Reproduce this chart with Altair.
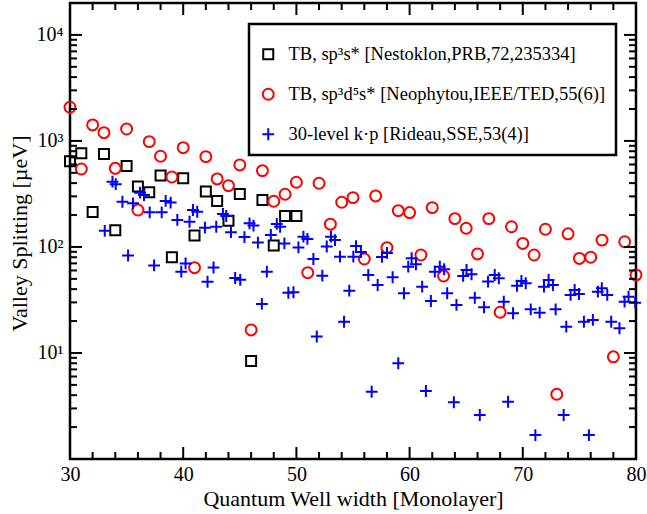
import altair as alt
import pandas as pd

# ---------------- data ----------------
series_names = [
    "TB, sp³s* [Nestoklon,PRB,72,235334]",
    "TB, sp³d⁵s* [Neophytou,IEEE/TED,55(6)]",
    "30-level k·p [Rideau,SSE,53(4)]",
]

sq_w = [30, 31, 32, 33, 34, 35, 36, 37, 38, 39, 40, 41, 42, 43, 44, 45, 46, 47, 48, 49, 50]
sq_v = [643, 766, 214, 754, 144, 581, 371, 328, 471, 80, 445, 128, 333, 272, 177, 316, 8.4, 277, 103, 196, 196]

ci_w = list(range(30, 81))
ci_v = [2080, 544, 1416, 1197, 552, 1297, 223, 985, 717, 457,
        864, 63.8, 711, 438, 379, 594, 16.5, 525, 270, 314,
        408, 57.2, 399, 164, 264, 292, 77, 303, 98.6, 220,
        211, 84, 235, 53.2, 185, 150, 86, 185, 24.2, 155,
        108, 84, 147, 4.08, 133, 78, 80, 116, 9.2, 112,
        54.5]

kp_w = [33.07, 33.75, 34.04, 34.63, 35.13, 35.57, 36.19, 36.54, 37.04, 37.43,
        38.10, 38.45, 38.89, 39.48, 39.83, 40.21, 40.56, 40.86, 41.24, 41.92,
        42.15, 42.68, 42.92, 43.51, 43.80, 44.22, 44.59, 45.04, 45.41, 45.86,
        46.21, 46.60, 46.95, 47.39, 47.74, 48.27, 48.56, 48.94, 49.29, 49.74,
        50.18, 50.62, 50.97, 51.50, 51.80, 52.29, 52.68, 53.06, 53.41, 53.85,
        54.21, 54.67, 55.03, 55.27, 55.70, 56.35, 56.65, 57.18, 57.56, 58.00,
        58.50, 59.00, 59.50, 59.88, 60.18, 60.56, 61.11, 61.44, 61.88, 62.23,
        62.67, 63.05, 63.32, 63.91, 64.14, 64.73, 65.03, 65.47, 65.76, 66.20,
        66.58, 66.93, 67.52, 67.88, 68.32, 68.70, 69.14, 69.49, 69.88, 70.26,
        70.70, 71.11, 71.49, 71.87, 72.28, 72.66, 72.90, 73.61, 73.84, 74.22,
        74.58, 74.96, 75.40, 75.84, 76.19, 76.63, 76.98, 77.46, 77.81, 78.54,
        78.99, 79.34, 79.93]
kp_v = [142, 413, 391, 267, 83, 258, 325, 309, 212, 67,
        212, 272, 262, 180, 58.5, 70, 173, 223, 215, 152,
        47, 64, 155, 205, 196, 138, 51, 49, 124, 167,
        159, 110, 29, 58.5, 130, 165, 155, 108, 37, 37.4,
        99, 125, 119, 77, 14.3, 53.6, 101, 125, 116, 81,
        19.7, 38.7, 81, 102, 89.7, 54.4, 4.31, 43.8, 80.5, 87.8,
        51.8, 8.0, 36.6, 65.2, 78.2, 68.7, 42.2, 4.38, 30.9, 58.5,
        65.2, 61.6, 36.6, 3.43, 28.4, 53.3, 60.7, 55.3, 33.2, 2.60,
        27, 47.1, 54.4, 50.7, 30.5, 3.47, 23.7, 43.1, 47.8, 45.5,
        25.8, 1.68, 24, 42.2, 48.8, 43.8, 25.8, 2.60, 17.7, 35.3,
        39.3, 36, 19.7, 1.68, 20.5, 37.9, 40.8, 35.3, 19.7, 17.1,
        30.5, 34, 29.8]

x_major = [30, 40, 50, 60, 70, 80]
x_minor = [v for v in range(32, 80, 2) if v % 10 != 0]
y_major = [10, 100, 1000, 10000]
y_minor = [m * d for d in (1, 10, 100, 1000) for m in range(2, 10)]

# ---------------- build ----------------
df = pd.concat([
    pd.DataFrame({"w": sq_w, "v": sq_v, "s": series_names[0]}),
    pd.DataFrame({"w": ci_w, "v": ci_v, "s": series_names[1]}),
    pd.DataFrame({"w": kp_w, "v": kp_v, "s": series_names[2]}),
])

W, H = 566, 456
FONT = "Liberation Serif"
xscale = alt.Scale(domain=[30, 80], nice=False, zero=False)
yscale = alt.Scale(type="log", domain=[1, 20000], nice=False)

cross = "M-1,0L1,0M0,-1L0,1"

sup = "{'10':'10¹','100':'10²','1000':'10³','10000':'10⁴'}[''+datum.value]"

points = alt.Chart(df).mark_point(filled=False, strokeWidth=2, opacity=1).encode(
    x=alt.X("w:Q", scale=xscale,
            axis=alt.Axis(values=x_major, ticks=False, domain=False, grid=False,
                          labelFont=FONT, labelFontSize=20, labelColor="black",
                          labelPadding=5, labelFlush=False,
                          title="Quantum Well width [Monolayer]",
                          titleFont=FONT, titleFontSize=22, titleFontWeight="normal",
                          titleColor="black", titleY=46, titleBaseline="alphabetic")),
    y=alt.Y("v:Q", scale=yscale,
            axis=alt.Axis(values=y_major, ticks=False, domain=False, grid=False,
                          labelExpr=sup,
                          labelFont=FONT, labelFontSize=20, labelColor="black",
                          labelPadding=7,
                          title="Valley Splitting [µeV]",
                          titleFont=FONT, titleFontSize=22, titleFontWeight="normal",
                          titleColor="black", titleX=-51, titleY=H / 2 + 2,
                          titleBaseline="middle", titleAlign="center")),
    color=alt.Color("s:N", scale=alt.Scale(domain=series_names,
                                           range=["black", "#ff0000", "#0000ff"]),
                    legend=alt.Legend(orient="none", legendX=179, legendY=21, title=" ",
                                      titleFontSize=8, titlePadding=3,
                                      strokeColor="black", fillColor="white",
                                      padding=10, rowPadding=20,
                                      labelFont=FONT, labelFontSize=18.5, labelColor="black",
                                      labelOffset=11, symbolSize=130, symbolStrokeWidth=2,
                                      labelLimit=500)),
    shape=alt.Shape("s:N", scale=alt.Scale(domain=series_names,
                                           range=["square", "circle", cross]),
                    legend=alt.Legend(orient="none", legendX=179, legendY=21, title=" ")),
    size=alt.Size("s:N", scale=alt.Scale(domain=series_names, range=[100, 140, 150]),
                  legend=None),
)


def yticks(vals, length):
    d = pd.DataFrame({"v": vals})
    left = alt.Chart(d).mark_rule(color="black", strokeWidth=2).encode(
        y=alt.Y("v:Q", scale=yscale, axis=None), x=alt.value(0), x2=alt.value(length))
    right = alt.Chart(d).mark_rule(color="black", strokeWidth=2).encode(
        y=alt.Y("v:Q", scale=yscale, axis=None), x=alt.value(W), x2=alt.value(W - length))
    return [left, right]


def xticks(vals, length):
    d = pd.DataFrame({"w": vals})
    bottom = alt.Chart(d).mark_rule(color="black", strokeWidth=2).encode(
        x=alt.X("w:Q", scale=xscale, axis=None), y=alt.value(H), y2=alt.value(H - length))
    top = alt.Chart(d).mark_rule(color="black", strokeWidth=2).encode(
        x=alt.X("w:Q", scale=xscale, axis=None), y=alt.value(0), y2=alt.value(length))
    return [bottom, top]


layers = ([points] + yticks(y_major, 12) + yticks(y_minor, 7)
          + xticks(x_major, 12) + xticks(x_minor, 7))

chart = alt.layer(*layers).resolve_axis(x="independent", y="independent").properties(
    width=W, height=H,
    autosize=alt.AutoSizeParams(type="none"),
    padding={"left": 70, "top": 3, "right": 11, "bottom": 55},
    background="white",
).configure_view(stroke="black", strokeWidth=2.5).configure_legend(strokeWidth=2.5)

chart.save("out.html", embed_options={"renderer": "svg", "actions": False})
